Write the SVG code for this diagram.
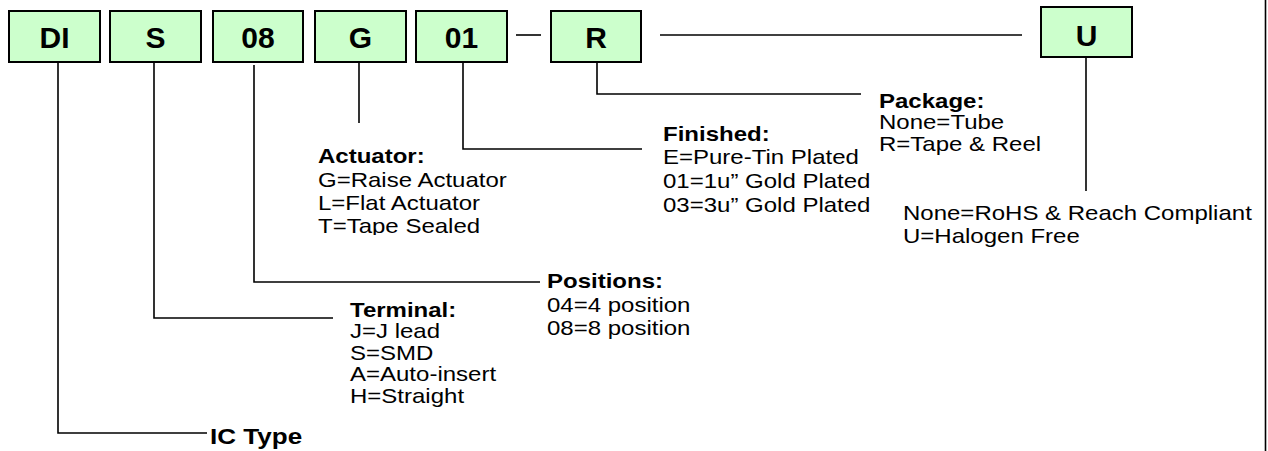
<svg xmlns="http://www.w3.org/2000/svg" width="1268" height="451" viewBox="0 0 1268 451">
<style>
.box{fill:#CCFFCC;stroke:#000;stroke-width:2}
.bt{font-family:"Liberation Sans",Arial,sans-serif;font-weight:bold;font-size:30px;text-anchor:middle;fill:#000}
.h{font-family:"Liberation Sans",Arial,sans-serif;font-weight:bold;font-size:21px;fill:#000}
.t{font-family:"Liberation Sans",Arial,sans-serif;font-size:21px;fill:#000}
.c{fill:none;stroke:#000;stroke-width:1.6}
</style>
<defs>
<clipPath id="clipAct"><rect x="-20" y="130" width="250" height="105"/></clipPath>
</defs>
<rect width="1268" height="451" fill="#fff"/>
<g id="connectors">
<path class="c" d="M58,62 V433 H207"/>
<path class="c" d="M154,62 V318 H333"/>
<path class="c" d="M254,65 V282 H540"/>
<path class="c" d="M359,62 V123"/>
<path class="c" d="M463,62 V149 H642"/>
<path class="c" d="M597,62 V94 H861"/>
<path class="c" d="M1086,57 V191"/>
<path class="c" d="M516,35 H541" stroke-width="2"/>
<path class="c" d="M660,35 H1022" stroke-width="2"/>
<path class="c" d="M1265.5,0 V451"/>
</g>
<g id="box-DI"><rect class="box" x="9" y="11" width="91" height="51"/><text class="bt" x="54.5" y="48">DI</text></g>
<g id="box-S"><rect class="box" x="110" y="11" width="91" height="51"/><text class="bt" x="155.5" y="48">S</text></g>
<g id="box-08"><rect class="box" x="213" y="11" width="90" height="51"/><text class="bt" x="258" y="48">08</text></g>
<g id="box-G"><rect class="box" x="315" y="11" width="91" height="51"/><text class="bt" x="360.5" y="48">G</text></g>
<g id="box-01"><rect class="box" x="416" y="11" width="91" height="51"/><text class="bt" x="461.5" y="48">01</text></g>
<g id="box-R"><rect class="box" x="551" y="11" width="90" height="51"/><text class="bt" x="596" y="48">R</text></g>
<g id="box-U"><rect class="box" x="1041" y="7" width="91" height="50"/><text class="bt" x="1086.5" y="46">U</text></g>
<g id="label-ictype" transform="translate(210,0) scale(1.143,1)"><text class="h" x="0" y="444" style="font-size:22.8px">IC Type</text></g>
<g id="label-terminal" transform="translate(350,0) scale(1.143,1)">
<text class="h" x="0" y="317">Terminal:</text>
<text class="t" x="0" y="338.5">J=J lead</text>
<text class="t" x="0" y="360">S=SMD</text>
<text class="t" x="0" y="381.5">A=Auto-insert</text>
<text class="t" x="0" y="403">H=Straight</text>
</g>
<g id="label-positions" transform="translate(547,0) scale(1.143,1)">
<text class="h" x="0" y="288">Positions:</text>
<text class="t" x="0" y="312">04=4 position</text>
<text class="t" x="0" y="335">08=8 position</text>
</g>
<g id="label-actuator" transform="translate(318,0) scale(1.143,1)">
<g clip-path="url(#clipAct)">
<text class="h" x="0" y="163">Actuator:</text>
<text class="t" x="0" y="187">G=Raise Actuator</text>
<text class="t" x="0" y="210">L=Flat Actuator</text>
<text class="t" x="0" y="233.5">T=Tape Sealed</text>
</g>
</g>
<g id="label-finished" transform="translate(663,0) scale(1.143,1)">
<text class="h" x="0" y="141">Finished:</text>
<text class="t" x="0" y="164">E=Pure-Tin Plated</text>
<text class="t" x="0" y="188">01=1u” Gold Plated</text>
<text class="t" x="0" y="212">03=3u” Gold Plated</text>
</g>
<g id="label-package" transform="translate(879,0) scale(1.143,1)">
<text class="h" x="0" y="108">Package:</text>
<text class="t" x="0" y="129.5">None=Tube</text>
<text class="t" x="0" y="151">R=Tape &amp; Reel</text>
</g>
<g id="label-compliance" transform="translate(903,0) scale(1.143,1)">
<text class="t" x="0" y="220">None=RoHS &amp; Reach Compliant</text>
<text class="t" x="0" y="243">U=Halogen Free</text>
</g>
</svg>
